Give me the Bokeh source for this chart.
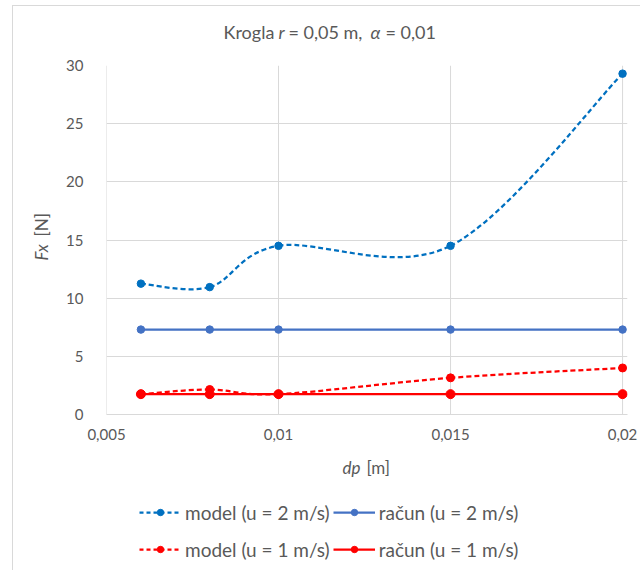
import math
from bokeh.plotting import figure
from bokeh.layouts import column, row
from bokeh.models import (Label, Legend, LegendItem, FixedTicker, CustomJSTickFormatter,
                          Range1d, ColumnDataSource, Span)
from bokeh.embed import file_html
from bokeh.resources import INLINE

# ---- data ----
dp = [0.006, 0.008, 0.01, 0.015, 0.02]
fx_model_2 = [11.25, 10.95, 14.5, 14.5, 29.3]
fx_racun_2 = [7.3, 7.3, 7.3, 7.3, 7.3]
fx_model_1 = [1.75, 2.15, 1.75, 3.15, 4.0]
fx_racun_1 = [1.75, 1.75, 1.75, 1.75, 1.75]
series_labels = ["model (u = 2 m/s)", "račun (u = 2 m/s)",
                 "model (u = 1 m/s)", "račun (u = 1 m/s)"]
x_ticks = [0.005, 0.01, 0.015, 0.02]
y_ticks = [0, 5, 10, 15, 20, 25, 30]

FONT = "Lato"
GREY = "#595959"
GRID = "#d9d9d9"
C_M2 = "#0070C0"
C_R2 = "#4472C4"
C_RED = "#FF0000"

# page geometry
OFF_X, OFF_Y = 12, 5
TOTAL_W = 640 - OFF_X
T_BOTTOM = 54            # page y where the title strip ends
M_BOTTOM = 445           # page y where the main plot ends
L_W = 50                 # width of the y-label strip
FR_L, FR_R, FR_T, FR_B = 98, 626, 64, 413   # plot frame, page px

T_H = T_BOTTOM - OFF_Y
M_H = M_BOTTOM - T_BOTTOM
B_H = 570 - M_BOTTOM
M_W = TOTAL_W - L_W
M_X0 = OFF_X + L_W


def smooth_source(xs, ys):
    """Excel-like smoothed line: cubic Bezier segments, control points from neighbours."""
    n = len(xs)
    d = dict(x0=[], y0=[], x1=[], y1=[], cx0=[], cy0=[], cx1=[], cy1=[])
    for i in range(n - 1):
        xp, yp = (xs[i - 1], ys[i - 1]) if i > 0 else (xs[i], ys[i])
        xn, yn = (xs[i + 2], ys[i + 2]) if i + 2 < n else (xs[i + 1], ys[i + 1])
        d["x0"].append(xs[i]); d["y0"].append(ys[i])
        d["x1"].append(xs[i + 1]); d["y1"].append(ys[i + 1])
        d["cx0"].append(xs[i] + (xs[i + 1] - xp) / 6)
        d["cy0"].append(ys[i] + (ys[i + 1] - yp) / 6)
        d["cx1"].append(xs[i + 1] - (xn - xs[i]) / 6)
        d["cy1"].append(ys[i + 1] - (yn - ys[i]) / 6)
    return ColumnDataSource(d)


def bare_fig(w, h):
    f = figure(width=w, height=h, x_axis_type=None, y_axis_type=None,
               x_range=Range1d(0, 1), y_range=Range1d(0, 1),
               output_backend="svg", toolbar_location=None, min_border=0)
    f.outline_line_color = None
    f.background_fill_color = "white"
    f.border_fill_color = "white"
    return f


def piece(fig, text, x, y, size, italic=False, angle=0.0):
    fig.add_layout(Label(x=x, y=y, x_units="screen", y_units="screen",
                         text=text, text_font=FONT, text_font_size=size,
                         text_color=GREY, text_baseline="middle", text_align="left",
                         text_font_style="italic" if italic else "normal",
                         angle=angle))


# ---------------- main plot ----------------
x_span = (x_ticks[-1] - x_ticks[0]) * (FR_R - FR_L) / (621 - FR_L)
p = figure(width=M_W, height=M_H,
           x_range=Range1d(x_ticks[0], x_ticks[0] + x_span),
           y_range=Range1d(y_ticks[0], y_ticks[-1]),
           output_backend="svg", toolbar_location=None,
           min_border_left=FR_L - M_X0, min_border_right=640 - FR_R,
           min_border_top=FR_T - T_BOTTOM, min_border_bottom=M_BOTTOM - FR_B)
p.outline_line_color = None
p.background_fill_color = "white"
p.border_fill_color = "white"

for ax in (p.xaxis[0], p.yaxis[0]):
    ax.major_tick_line_color = None
    ax.minor_tick_line_color = None
    ax.major_label_text_font = FONT
    ax.major_label_text_font_size = "15px"
    ax.major_label_text_color = GREY
p.xaxis.ticker = FixedTicker(ticks=x_ticks)
p.yaxis.ticker = FixedTicker(ticks=y_ticks)
p.xaxis.formatter = CustomJSTickFormatter(code="return tick.toString().replace('.', ',');")
p.xaxis.axis_line_color = GRID
p.yaxis.axis_line_color = None
p.xaxis.major_label_standoff = 8
p.yaxis.major_label_standoff = 17
p.xgrid.grid_line_color = None
p.ygrid.ticker = FixedTicker(ticks=y_ticks)
p.ygrid.grid_line_color = GRID
for xt in x_ticks:
    p.add_layout(Span(location=xt, dimension="height", line_color=GRID,
                      line_width=1, level="underlay"))

src_m2 = smooth_source(dp, fx_model_2)
src_m1 = smooth_source(dp, fx_model_1)
BEZ = dict(x0="x0", y0="y0", x1="x1", y1="y1", cx0="cx0", cy0="cy0", cx1="cx1", cy1="cy1")

p.bezier(source=src_m2, line_color=C_M2, line_width=2.25, line_dash="5 3", **BEZ)
p.scatter(dp, fx_model_2, size=7.5, color=C_M2)
p.line(dp, fx_racun_2, line_color=C_R2, line_width=2.25)
p.scatter(dp, fx_racun_2, size=7.5, color=C_R2)
p.line(dp, fx_racun_1, line_color=C_RED, line_width=2.25)
p.scatter(dp, fx_racun_1, size=9, color=C_RED)
p.bezier(source=src_m1, line_color=C_RED, line_width=2.25, line_dash="5 3", **BEZ)
p.scatter(dp, fx_model_1, size=8, color=C_RED)

# ---------------- title strip ----------------
t = bare_fig(TOTAL_W, T_H)
ty = T_BOTTOM - 30
piece(t, "Krogla", 222 - OFF_X, ty, "18px")
piece(t, "r", 277 - OFF_X, ty, "18px", italic=True)
piece(t, "= 0,05 m,", 287 - OFF_X, ty, "18px")
piece(t, "α", 369 - OFF_X, ty, "18px", italic=True)
piece(t, "= 0,01", 384 - OFF_X, ty, "18px")

# ---------------- y-label strip ----------------
lft = bare_fig(L_W, M_H)
piece(lft, "Fx", 40 - OFF_X, M_BOTTOM - 291, "17px", italic=True, angle=math.pi / 2)
piece(lft, "[N]", 40 - OFF_X, M_BOTTOM - 267, "17px", angle=math.pi / 2)

# ---------------- bottom strip: x label + legend ----------------
b = bare_fig(TOTAL_W, B_H)
b.x_range = Range1d(dp[0], dp[-1])
b.y_range = Range1d(0, 30)
piece(b, "dp", 341 - OFF_X, 570 - 466, "17px", italic=True)
piece(b, "[m]", 365 - OFF_X, 570 - 466, "17px")

# legend keys (hidden renderers carrying each series' style)
k_m2_l = b.line(dp, fx_model_2, line_color=C_M2, line_width=2.25, line_dash="4 3", visible=False)
k_m2_p = b.scatter(dp, fx_model_2, size=7.5, color=C_M2, visible=False)
k_r2_l = b.line(dp, fx_racun_2, line_color=C_R2, line_width=2.25, visible=False)
k_r2_p = b.scatter(dp, fx_racun_2, size=7.5, color=C_R2, visible=False)
k_m1_l = b.line(dp, fx_model_1, line_color=C_RED, line_width=2.25, line_dash="4 3", visible=False)
k_m1_p = b.scatter(dp, fx_model_1, size=8, color=C_RED, visible=False)
k_r1_l = b.line(dp, fx_racun_1, line_color=C_RED, line_width=2.25, visible=False)
k_r1_p = b.scatter(dp, fx_racun_1, size=9, color=C_RED, visible=False)

legend = Legend(items=[
    LegendItem(label=series_labels[0], renderers=[k_m2_l, k_m2_p]),
    LegendItem(label=series_labels[1], renderers=[k_r2_l, k_r2_p]),
    LegendItem(label=series_labels[2], renderers=[k_m1_l, k_m1_p]),
    LegendItem(label=series_labels[3], renderers=[k_r1_l, k_r1_p]),
], orientation="horizontal", ncols=2, location=(138 - OFF_X, 5))
legend.border_line_color = None
legend.background_fill_alpha = 0
legend.padding = 0
legend.margin = 0
legend.spacing = 3
legend.label_standoff = 4
legend.glyph_width = 42
legend.glyph_height = 16
legend.label_height = 34
legend.label_text_font = FONT
legend.label_text_font_size = "19px"
legend.label_text_color = GREY
b.add_layout(legend, "center")

layout = column(t, row(lft, p), b, margin=(OFF_Y, 0, 0, OFF_X),
                styles={"border-top": "1px solid #d9d9d9", "border-left": "1px solid #d9d9d9"})

open("out.html", "w").write(file_html(layout, INLINE))
